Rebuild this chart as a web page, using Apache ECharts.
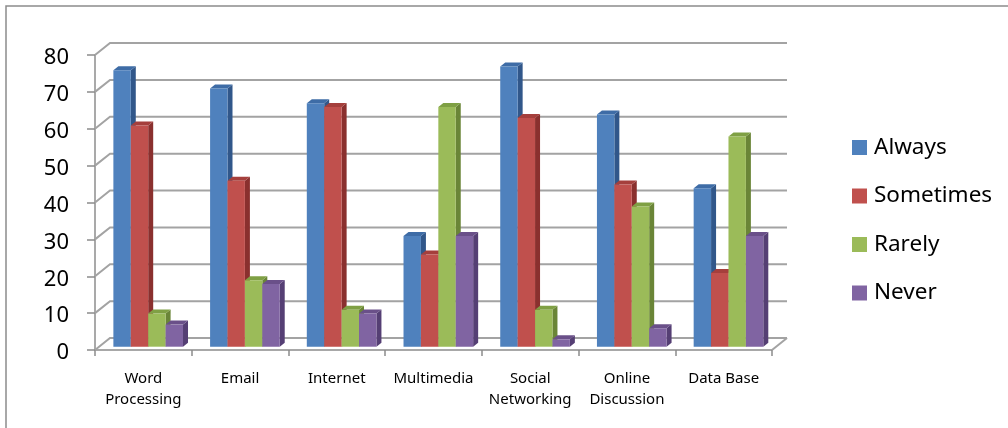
<!DOCTYPE html>
<html>
<head>
<meta charset="utf-8">
<script src="https://cdn.jsdelivr.net/npm/echarts@6/dist/echarts.min.js"></script>
<style>
html,body{margin:0;padding:0;background:#fff;}
#c{width:1008px;height:428px;}
</style>
</head>
<body>
<div id="c"></div>
<script>
var categories = ['Word\nProcessing', 'Email', 'Internet', 'Multimedia', 'Social\nNetworking', 'Online\nDiscussion', 'Data Base'];
var seriesNames = ['Always', 'Sometimes', 'Rarely', 'Never'];
var always    = [75, 70, 66, 30, 76, 63, 43];
var sometimes = [60, 45, 65, 25, 62, 44, 20];
var rarely    = [9, 18, 10, 65, 10, 38, 57];
var never     = [6, 17, 9, 30, 2, 5, 30];
var yTicks = [0, 10, 20, 30, 40, 50, 60, 70, 80];

var seriesValues = [always, sometimes, rarely, never];
var faceColors = [
  {front:'#4F81BD', side:'#31578A', top:'#3E6CA6'},
  {front:'#C0504D', side:'#8A302E', top:'#A53F3C'},
  {front:'#9BBB59', side:'#6A8537', top:'#7FA044'},
  {front:'#8064A2', side:'#553F74', top:'#6A5089'}
];
var WALL_DX = 15, WALL_DY = -12;
var DEPTH_DX = 5, DEPTH_DY = -4;
var BASE_DY = -3.3;

var chart = echarts.init(document.getElementById('c'));

function gridRender(params, api) {
  var v = api.value(0);
  var cs = params.coordSys;
  var y = api.coord([0, v])[1];
  var x0 = cs.x, x1 = cs.x + cs.width;
  var children = [{
    type: 'polyline',
    shape: {points: [[x0, y], [x0 + WALL_DX, y + WALL_DY], [x1 + WALL_DX, y + WALL_DY]]},
    style: {stroke: '#a3a3a3', lineWidth: 2, fill: null}
  }];
  if (v === 0) {
    children.push({
      type: 'line',
      shape: {x1: x1, y1: y, x2: x1 + WALL_DX, y2: y + WALL_DY},
      style: {stroke: '#a3a3a3', lineWidth: 2}
    });
  }
  return {type: 'group', children: children};
}

function makeBarRender(sIndex) {
  var col = faceColors[sIndex];
  return function (params, api) {
    var idx = api.value(0), v = api.value(1);
    var base = api.coord([idx, 0]);
    var top = api.coord([idx, v]);
    var cw = api.size([1, 0])[0];
    var bw = cw * 0.18;
    var center = base[0] + cw * 0.05;
    var x0 = center - 2 * bw + sIndex * bw;
    var x1 = x0 + bw;
    var yb = base[1] + BASE_DY;
    var yt = top[1] + BASE_DY;
    return {
      type: 'group',
      children: [
        {type: 'polygon', shape: {points: [[x1, yb], [x1 + DEPTH_DX, yb + DEPTH_DY], [x1 + DEPTH_DX, yt + DEPTH_DY], [x1, yt]]}, style: {fill: col.side}},
        {type: 'polygon', shape: {points: [[x0, yt], [x0 + DEPTH_DX, yt + DEPTH_DY], [x1 + DEPTH_DX, yt + DEPTH_DY], [x1, yt]]}, style: {fill: col.top}},
        {type: 'rect', shape: {x: x0, y: yt, width: bw, height: yb - yt}, style: {fill: col.front}}
      ]
    };
  };
}

var series = [{
  type: 'custom',
  name: 'grid',
  renderItem: gridRender,
  data: yTicks.map(function (t) { return [t]; }),
  encode: {y: 0},
  silent: true,
  z: 1
}];
seriesNames.forEach(function (name, s) {
  series.push({
    type: 'custom',
    name: name,
    renderItem: makeBarRender(s),
    itemStyle: {color: faceColors[s].front},
    data: seriesValues[s].map(function (v, i) { return [i, v]; }),
    encode: {x: 0, y: 1},
    z: 2
  });
});

chart.setOption({
  animation: false,
  textStyle: {fontFamily: 'Noto Sans'},
  graphic: [{
    type: 'rect',
    shape: {x: 6, y: 6, width: 1010, height: 430},
    style: {fill: null, stroke: '#8c8c8c', lineWidth: 1.5},
    silent: true,
    z: -10
  }],
  grid: {left: 95, right: 236, top: 55, bottom: 78},
  legend: {
    data: seriesNames,
    orient: 'vertical',
    left: 852,
    top: 136,
    padding: 0,
    icon: 'rect',
    itemWidth: 15,
    itemHeight: 15,
    itemGap: 25.5,
    textStyle: {fontSize: 22.5, lineHeight: 21.5, color: '#000', fontFamily: 'Noto Sans', padding: [0, 0, 0, 2]}
  },
  xAxis: {
    type: 'category',
    data: categories,
    axisLine: {lineStyle: {color: '#8c8c8c', width: 1.5}},
    axisTick: {show: true, length: 6, lineStyle: {color: '#8c8c8c', width: 1.5}},
    axisLabel: {fontSize: 15, lineHeight: 21, color: '#000', margin: 18, interval: 0},
    splitLine: {show: false}
  },
  yAxis: {
    type: 'value',
    min: 0,
    max: 80,
    interval: 10,
    axisLine: {show: true, lineStyle: {color: '#8c8c8c', width: 1.5}},
    axisTick: {show: true, length: 8, lineStyle: {color: '#8c8c8c', width: 1.5}},
    axisLabel: {
      color: '#000', margin: 26,
      formatter: '{a|{value}}',
      rich: {a: {fontSize: 22, color: '#000', fontFamily: 'Noto Sans', padding: [6, 0, 0, 0]}}
    },
    splitLine: {show: false}
  },
  series: series
});
</script>
</body>
</html>
